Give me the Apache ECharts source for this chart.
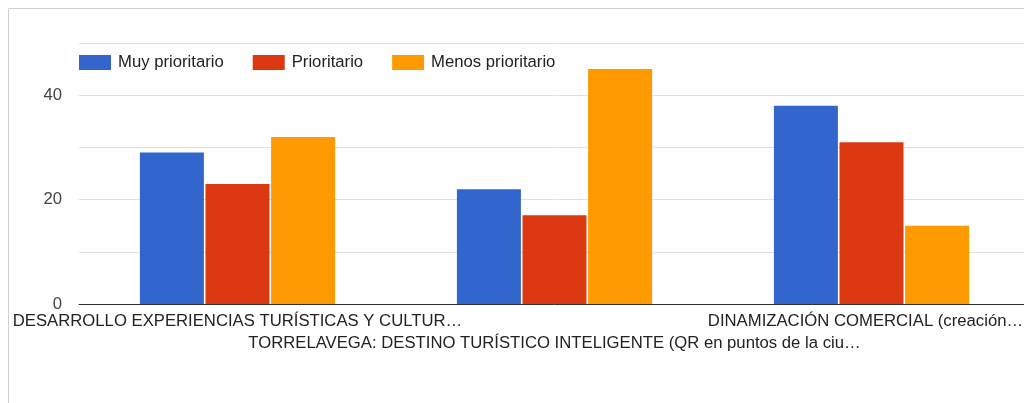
<!DOCTYPE html>
<html>
<head>
<meta charset="utf-8">
<script src="https://cdn.jsdelivr.net/npm/echarts@6/dist/echarts.min.js"></script>
<style>
html,body{margin:0;padding:0;background:#fff;overflow:hidden;width:1024px;height:403px;}
#chart{width:1040px;height:403px;}
</style>
</head>
<body>
<div id="chart"></div>
<script>
const categories = [
  'DESARROLLO EXPERIENCIAS TURÍSTICAS Y CULTUR…',
  'TORRELAVEGA: DESTINO TURÍSTICO INTELIGENTE (QR en puntos de la ciu…',
  'DINAMIZACIÓN COMERCIAL (creación…'
];
const seriesNames = ['Muy prioritario', 'Prioritario', 'Menos prioritario'];
const muyPrioritario = [29, 22, 38];
const prioritario = [23, 17, 31];
const menosPrioritario = [32, 45, 15];
const yTicks = [0, 10, 20, 30, 40, 50];
const colors = ['#3366cc', '#dc3912', '#ff9900'];

const chart = echarts.init(document.getElementById('chart'), null, {renderer: 'canvas'});
const font = 'Arial, "Liberation Sans", sans-serif';
const values = [muyPrioritario, prioritario, menosPrioritario];

chart.setOption({
  animation: false,
  color: colors,
  textStyle: {fontFamily: font},
  graphic: [{
    type: 'rect',
    shape: {x: 8.5, y: 8.5, width: 1100, height: 500},
    style: {fill: 'none', stroke: '#d0d0d0', lineWidth: 1},
    silent: true, z: -1
  }],
  legend: {
    left: 74, top: 49,
    itemWidth: 32, itemHeight: 15, itemGap: 29,
    icon: 'rect',
    textStyle: {fontSize: 16.7, color: '#222', fontFamily: font, padding: [0, 0, 0, 2]},
    data: seriesNames
  },
  grid: {left: 79, right: 10, top: 43, bottom: 99, containLabel: false},
  xAxis: {
    type: 'category',
    data: categories,
    axisLine: {show: true, lineStyle: {color: '#333', width: 1}},
    axisTick: {show: false},
    axisLabel: {
      interval: 0, hideOverlap: false,
      fontSize: 16.7, color: '#222', fontFamily: font,
      margin: 6, lineHeight: 22,
      formatter: (v, i) => (i === categories.length - 1 ? '{last|' + v + '}' : (i % 2 ? '\n' + v : v)),
      rich: {
        last: {fontSize: 16.7, color: '#222', fontFamily: font, padding: [0, 12, 0, 0], lineHeight: 22}
      }
    }
  },
  yAxis: {
    type: 'value',
    min: yTicks[0], max: yTicks[yTicks.length - 1], interval: 10,
    axisLine: {show: false},
    axisTick: {show: false},
    splitLine: {lineStyle: {color: '#e0e0e0', width: 1}},
    axisLabel: {
      fontSize: 16.7, color: '#444', fontFamily: font, margin: 17,
      formatter: v => (v % 20 === 0 ? String(v) : '')
    }
  },
  series: seriesNames.map((name, i) => ({
    name: name,
    type: 'bar',
    data: values[i],
    barWidth: 64,
    barGap: '2.5%',
    itemStyle: {color: colors[i]}
  }))
});
</script>
</body>
</html>
